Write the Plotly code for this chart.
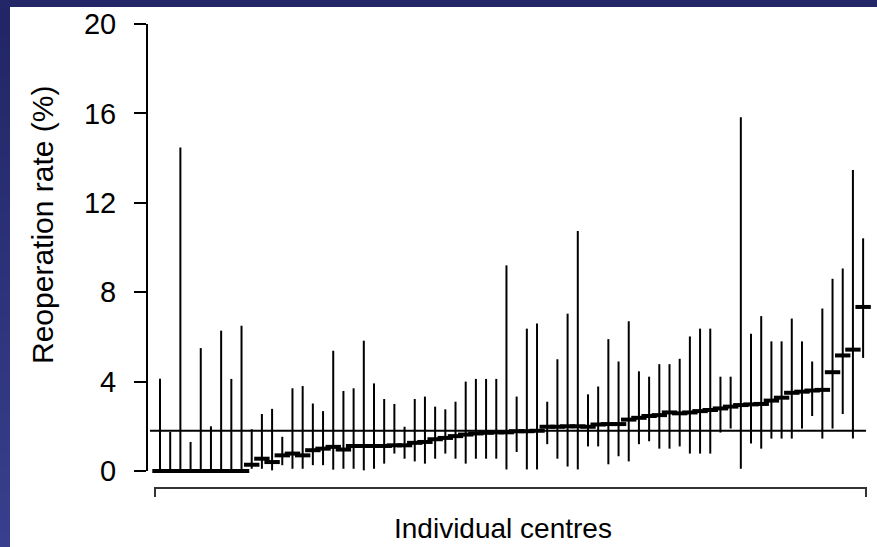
import plotly.graph_objects as go

# ---- data ----
centre = list(range(1, 71))
rate = [0, 0, 0, 0, 0, 0, 0, 0, 0, 0.28, 0.55, 0.4, 0.7, 0.78, 0.7, 0.93, 1.0, 1.08, 0.96, 1.12,
        1.12, 1.12, 1.12, 1.15, 1.15, 1.26, 1.3, 1.42, 1.48, 1.56, 1.63, 1.68, 1.71, 1.73, 1.73, 1.78, 1.78, 1.8, 1.98, 1.98,
        2.0, 2.0, 1.98, 2.08, 2.1, 2.1, 2.3, 2.38, 2.46, 2.5, 2.62, 2.58, 2.62, 2.68, 2.73, 2.8, 2.88, 2.95, 2.98, 3.0,
        3.15, 3.28, 3.5, 3.55, 3.6, 3.63, 4.42, 5.17, 5.43, 7.34]
upper = [4.13, 1.75, 14.47, 1.3, 5.5, 2.0, 6.28, 4.12, 6.5, 1.87, 2.55, 2.78, 1.53, 3.7, 3.8, 3.02, 2.68, 5.38, 3.58, 3.7,
         5.83, 3.92, 3.22, 3.0, 1.98, 3.22, 3.33, 2.88, 2.76, 3.1, 4.0, 4.12, 4.12, 4.12, 9.2, 3.33, 6.37, 6.6, 3.1, 5.0,
         7.04, 10.74, 3.43, 3.78, 5.9, 4.9, 6.7, 4.46, 4.22, 4.78, 4.78, 5.02, 6.02, 6.37, 6.37, 4.22, 4.22, 15.83, 6.14, 6.93,
         5.8, 5.8, 6.82, 5.8, 4.9, 7.27, 8.6, 9.06, 13.47, 10.41]
lower = [0, 0, 0, 0, 0, 0, 0, 0, 0, 0.1, 0.1, 0.03, 0.26, 0.1, 0.1, 0.26, 0.26, 0.06, 0.1, 0.1,
         0.03, 0.1, 0.33, 0.78, 0.55, 0.43, 0.33, 0.55, 0.78, 0.55, 0.33, 0.55, 0.55, 0.55, 0.07, 0.85, 0.07, 0.07, 1.2, 0.55,
         0.2, 0.07, 1.1, 1.1, 0.3, 0.66, 0.43, 1.2, 1.33, 1.0, 1.0, 1.1, 0.78, 0.78, 0.78, 1.72, 1.9, 0.1, 1.23, 1.0,
         1.45, 1.45, 1.45, 1.9, 2.46, 1.45, 1.9, 2.55, 1.45, 5.06]
overall_rate = 1.8
y_ticks = [0, 4, 8, 12, 16, 20]

err_plus = [u - r for u, r in zip(upper, rate)]
err_minus = [r - l for r, l in zip(rate, lower)]

FONT = "Liberation Sans, Arial, sans-serif"

# plot area in pixels
L, R, T, B = 147, 868, 24, 500
W, H = 877, 547
pw, ph = R - L, B - T


def px(xp):
    return (xp - L) / pw


def py(yp):
    return (B - yp) / ph


fig = go.Figure()
fig.add_trace(go.Scatter(
    x=centre, y=rate, mode="markers",
    marker=dict(symbol="line-ew", size=11, line=dict(width=4, color="black"), color="black"),
    error_y=dict(type="data", symmetric=False, array=err_plus, arrayminus=err_minus,
                 color="black", thickness=2, width=0),
    showlegend=False, hoverinfo="skip", cliponaxis=False,
))

shapes = []
# overall reference line
shapes.append(dict(type="line", xref="paper", yref="y", x0=px(150), x1=px(866),
                   y0=overall_rate, y1=overall_rate, line=dict(color="black", width=2)))
# y axis line (0 to 20)
shapes.append(dict(type="line", xref="paper", yref="y", x0=0, x1=0, y0=0, y1=20,
                   line=dict(color="black", width=2)))
# x axis bracket
shapes.append(dict(type="path", xref="paper", yref="paper",
                   path=f"M {px(155)},{py(497)} L {px(155)},{py(488)} L {px(866)},{py(488)} L {px(866)},{py(497)}",
                   line=dict(color="#333333", width=2)))
# slide frame: top band and left gradient band
shapes.append(dict(type="rect", xref="paper", yref="paper", x0=px(0), x1=px(W), y0=py(7), y1=py(0),
                   fillcolor="#232767", line=dict(width=0), layer="below"))
n = 40
c0, c1 = (0x22, 0x26, 0x66), (0x38, 0x40, 0x8e)
for k in range(n):
    t = k / (n - 1)
    col = "#%02x%02x%02x" % tuple(int(a + (b - a) * t) for a, b in zip(c0, c1))
    y_top = 7 + (H - 7) * k / n
    y_bot = 7 + (H - 7) * (k + 1) / n + 1
    shapes.append(dict(type="rect", xref="paper", yref="paper", x0=px(0), x1=px(10),
                       y0=py(y_bot), y1=py(y_top), fillcolor=col, line=dict(width=0), layer="below"))
shapes.append(dict(type="rect", xref="paper", yref="paper", x0=px(0), x1=px(10), y0=py(7), y1=py(0),
                   fillcolor="#232767", line=dict(width=0), layer="below"))

fig.update_layout(
    width=W, height=H,
    margin=dict(l=L, r=W - R, t=T, b=H - B, pad=0),
    paper_bgcolor="white", plot_bgcolor="white",
    shapes=shapes,
    xaxis=dict(range=[1 - (160 - L) / 10.19, 1 + (R - 160) / 10.19], showgrid=False, zeroline=False,
               showline=False, showticklabels=False, ticks=""),
    yaxis=dict(range=[-(B - 471) / 22.35, 20], tickvals=y_ticks, ticktext=[str(v) for v in y_ticks],
               showgrid=False, zeroline=False, showline=False,
               ticks="outside", ticklen=12, tickwidth=2, tickcolor="black", ticklabelstandoff=12,
               tickfont=dict(family=FONT, size=29, color="black")),
    annotations=[
        dict(text="Reoperation rate (%)", xref="paper", yref="paper", x=px(42), y=py(225),
             xanchor="center", yanchor="middle",
             textangle=-90, showarrow=False, font=dict(family=FONT, size=30, color="black")),
        dict(text="Individual centres", xref="paper", yref="paper", x=px(503), y=py(528),
             xanchor="center", yanchor="middle",
             showarrow=False, font=dict(family=FONT, size=28, color="black")),
    ],
)

fig.write_html("out.html", config={"displayModeBar": False},
               post_script="document.body.style.margin='0px';document.body.style.overflow='hidden';")
